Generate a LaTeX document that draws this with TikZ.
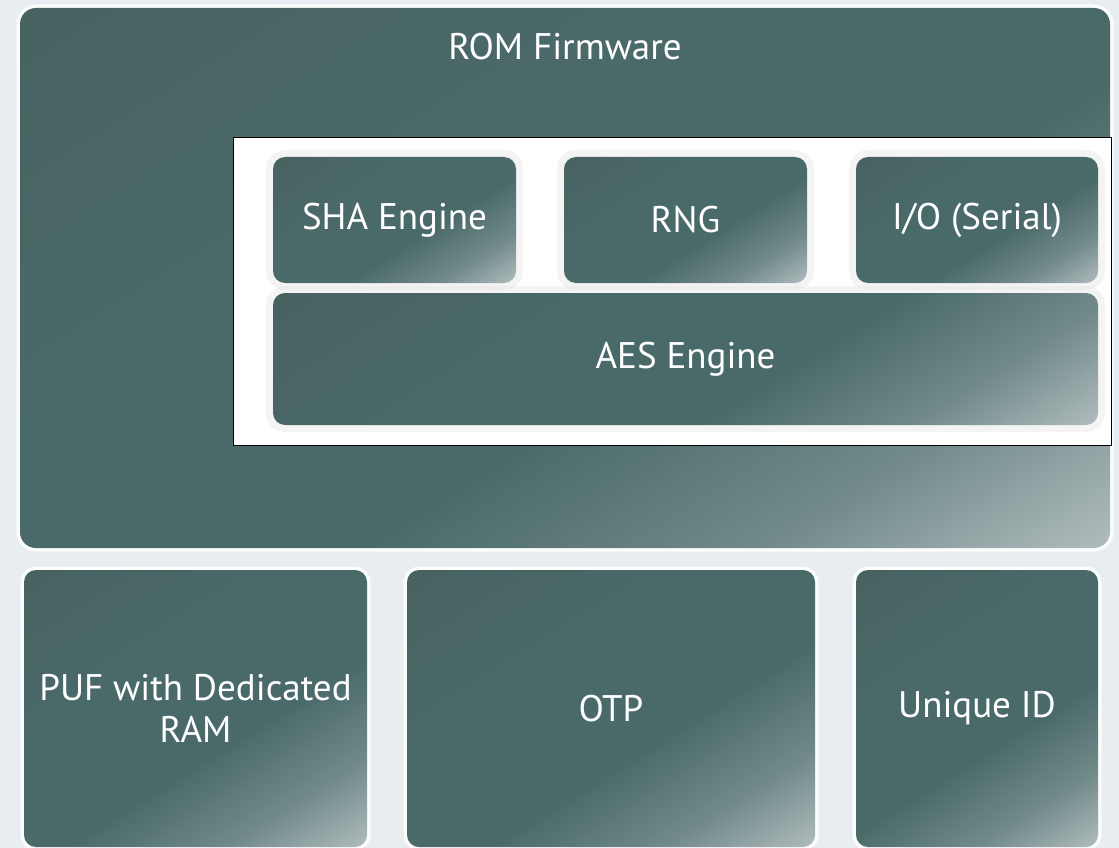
\documentclass[tikz,border=0pt]{standalone}
\usepackage{fontspec}
\setmainfont{PT Sans}
\definecolor{bg}{HTML}{E8EDF1}
\definecolor{tealdark}{RGB}{70,92,92}
\definecolor{tealmid}{RGB}{74,106,105}
\definecolor{teallight}{RGB}{184,194,196}
\pgfdeclarehorizontalshading{sheen}{100bp}{color(0bp)=(tealdark); color(40bp)=(tealmid); color(58bp)=(tealmid); color(72bp)=(tealmid!65!teallight); color(86bp)=(teallight); color(100bp)=(teallight)}
\tikzset{
  chip/.style={rectangle, rounded corners=12pt, inner sep=0pt, shading=sheen, shading angle=-58,
    preaction={draw=white, line width=7pt, opacity=.85},
    text=white, font=\fontsize{37}{44}\selectfont, align=center},
  inchip/.style={chip, preaction={draw=black!12, line width=14pt, opacity=.35}},
  title/.style={text=white, font=\fontsize{37}{44}\selectfont, inner sep=0pt}
}
\begin{document}
\begin{tikzpicture}[x=1pt,y=-1pt]
\fill[bg] (0,0) rectangle (1119,848);
\useasboundingbox (0,0) rectangle (1119,848);

% firmware block and its title
\node[chip, rounded corners=16pt, minimum width=1090pt, minimum height=540pt] (rom) at (565,278) {};
\node[title] (romlbl) at (565,47) {ROM Firmware};

% framed group of crypto engines
\node[rectangle, fill=white, draw=black, line width=0.8pt, inner sep=0pt,
      minimum width=878pt, minimum height=308pt] (frame) at (672,291) {};

\node[inchip, minimum width=243pt, minimum height=126pt] (sha) at (394.5,220) {SHA Engine};
\node[inchip, minimum width=243pt, minimum height=126pt] (rng) at (685.5,220) {RNG};
\node[inchip, minimum width=242pt, minimum height=126pt] (io)  at (977,220) {I/O (Serial)};
\node[inchip, minimum width=825pt, minimum height=132pt] (aes) at (685.5,359) {AES Engine};

% bottom row
\node[chip, minimum width=343pt, minimum height=277pt] (puf) at (195.5,708.5) {PUF with Dedicated\\[-2pt]RAM};
\node[chip, minimum width=408pt, minimum height=277pt] (otp) at (611,708.5) {OTP};
\node[chip, minimum width=242pt, minimum height=277pt] (uid) at (977,708.5) {Unique ID};
\end{tikzpicture}
\end{document}
